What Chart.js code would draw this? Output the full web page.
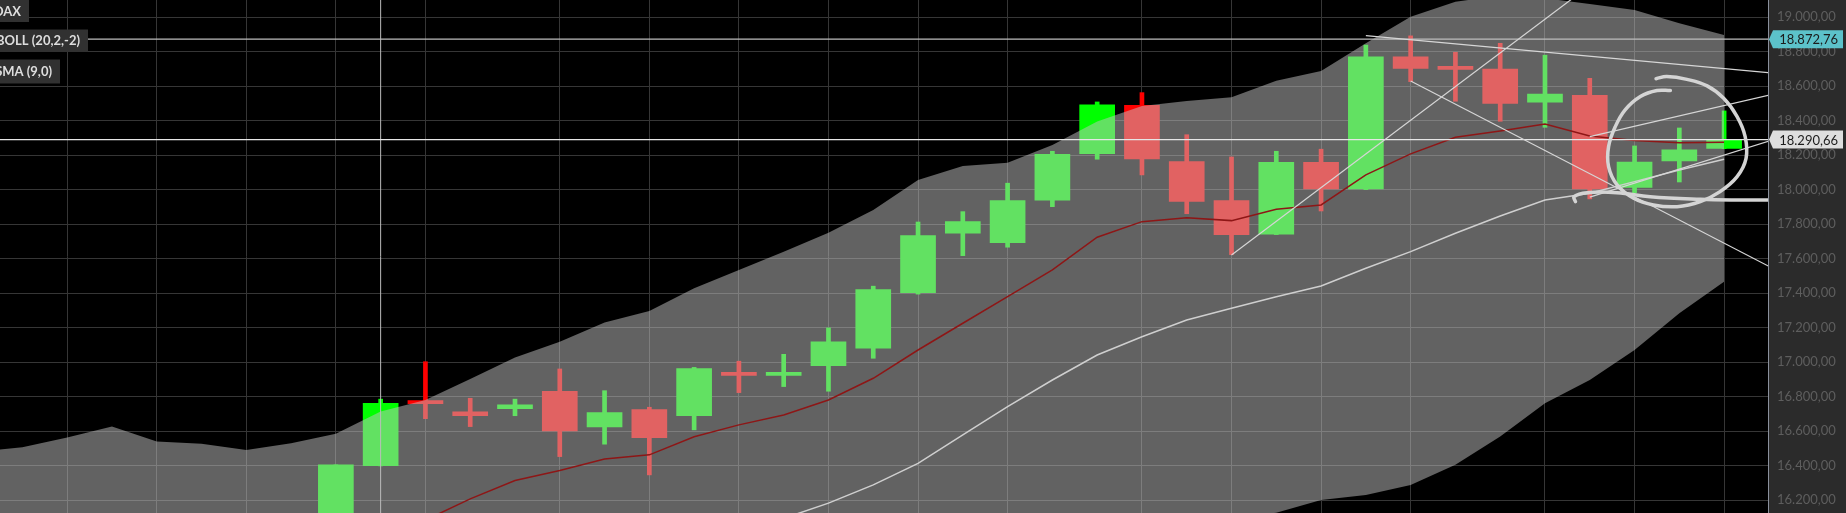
<!DOCTYPE html>
<html>
<head>
<meta charset="utf-8">
<script src="https://cdn.jsdelivr.net/npm/chart.js@4.4.0/dist/chart.umd.min.js"></script>
<style>
  html, body { margin: 0; padding: 0; background: #000; }
  #wrap { width: 1846px; height: 513px; }
</style>
</head>
<body>
<div id="wrap"><canvas id="myChart"></canvas></div>
<script>
// candles (index = trading day, 0 = first visible candle)
const candleIdx = [0, 1, 2, 3, 4, 5, 6, 7, 8, 9, 10, 11, 12, 13, 14, 15, 16, 17, 18, 19, 20, 21, 22, 23, 24, 25, 26, 27, 28, 29, 30, 31];
const opens  = [16050, 16400, 16765, 16712, 16731, 16832, 16625, 16725, 16690, 16928, 16924, 16980, 17081, 17404, 17748, 17693, 17939, 18209, 18490, 18163, 17937, 17742, 18159, 18005, 18770, 18703, 18699, 18507, 18548, 18013, 18167, 18240];
const highs  = [16405, 16786, 17003, 16791, 16786, 16961, 16835, 16739, 16970, 17006, 17046, 17199, 17441, 17813, 17873, 18038, 18223, 18509, 18563, 18319, 18190, 18223, 18235, 18838, 18892, 18797, 18849, 18780, 18646, 18254, 18358, 18457];
const lows   = [16020, 16399, 16673, 16627, 16690, 16453, 16525, 16347, 16608, 16824, 16859, 16832, 17023, 17395, 17618, 17667, 17902, 18177, 18086, 17861, 17624, 17740, 17877, 18000, 18627, 18513, 18397, 18362, 17947, 17983, 18045, 18238];
const closes = [16405, 16762, 16760, 16690, 16753, 16602, 16708, 16563, 16963, 16924, 16928, 17119, 17421, 17734, 17815, 17937, 18206, 18492, 18179, 17933, 17740, 18159, 18005, 18770, 18704, 18698, 18501, 18554, 18005, 18161, 18232, 18290.66];

// Bollinger (20,2) - starts before the first visible candle
const bandIdx    = [-8, -7, -6, -5, -4, -3, -2, -1, 0, 1, 2, 3, 4, 5, 6, 7, 8, 9, 10, 11, 12, 13, 14, 15, 16, 17, 18, 19, 20, 21, 22, 23, 24, 25, 26, 27, 28, 29, 30, 31];
const upperBand  = [16480, 16507, 16564, 16627, 16540, 16527, 16491, 16530, 16585, 16714, 16781, 16903, 17027, 17119, 17230, 17297, 17429, 17535, 17641, 17751, 17883, 18057, 18138, 18157, 18260, 18395, 18486, 18515, 18536, 18632, 18689, 18849, 19003, 19090, 19125, 19110, 19077, 19042, 18965, 18897];
const middleBand = [15900, 15880, 15860, 15840, 15820, 15800, 15780, 15760, 15745, 15760, 15790, 15830, 15870, 15910, 15950, 15990, 16030, 16060, 16095, 16183, 16289, 16414, 16579, 16743, 16897, 17042, 17148, 17245, 17313, 17380, 17442, 17545, 17641, 17748, 17848, 17941, 17980, 18047, 18115, 18177];
const lowerBand  = [15320, 15250, 15160, 15050, 15100, 15070, 15070, 14990, 14905, 14805, 14800, 14760, 14710, 14700, 14670, 14680, 14630, 14585, 14550, 14615, 14695, 14770, 15020, 15330, 15535, 15690, 15810, 15975, 16090, 16128, 16202, 16231, 16289, 16405, 16569, 16762, 16897, 17071, 17284, 17467];

// SMA (9,0)
const sma9 = [15940, 16000, 16085, 16208, 16314, 16372, 16439, 16463, 16568, 16637, 16694, 16781, 16907, 17071, 17226, 17380, 17535, 17725, 17815, 17838, 17821, 17887, 17912, 18086, 18208, 18304, 18341, 18381, 18312, 18285, 18273, 18275];

const yTicks = [16200, 16400, 16600, 16800, 17000, 17200, 17400, 17600, 17800, 18000, 18200, 18400, 18600, 18800, 19000];
const xGridAt = [-6, -4, -2, 0, 2, 5, 7, 9, 11, 13, 15, 18, 20, 22, 24, 27, 29, 31];

const priceLines = [18872.76, 18290.66];
const crosshairAt = 1;

// drawn trend lines: [idx1, price1, idx2, price2]
const trendLines = [
  [23, 18893, 32.5, 18667],
  [24, 18630, 32.5, 17489],
  [20, 17622, 28, 19184],
  [28, 18308, 32.5, 18578],
  [28, 17957, 32.5, 18323]
];

// freehand circle + underline
const loopX = [29.80, 29.50, 29.13, 28.79, 28.57, 28.42, 28.42, 28.61, 28.98, 29.42, 29.95, 30.47, 30.91, 31.29, 31.49, 31.47, 31.29, 30.99, 30.62, 30.17, 29.72, 29.48];
const loopY = [18575, 18575, 18540, 18463, 18366, 18250, 18134, 18028, 17951, 17912, 17902, 17931, 17989, 18076, 18182, 18308, 18424, 18530, 18602, 18640, 18656, 18644];
const underX = [27.68, 27.65, 27.94, 28.61, 29.35, 30.47, 31.21, 32.03];
const underY = [17931, 17960, 17983, 17983, 17960, 17945, 17941, 17941];

const labels = ['DAX', 'BOLL (20,2,-2)', 'SMA (9,0)'];

const UP = '#00ff00', DOWN = '#ff0000';
const candleColors = candleIdx.map((x, i) => closes[i] >= opens[i] ? UP : DOWN);

function fmt(v) {
  let [i, d] = v.toFixed(2).split('.');
  i = i.replace(/\B(?=(\d{3})+(?!\d))/g, '.');
  return i + ',' + d;
}

function pts(xs, ys) {
  return xs.map((x, i) => ({ x: x, y: ys[i] }));
}

function lineSet(data, color, width, order, extra) {
  return Object.assign({
    type: 'line', data: data, borderColor: color, borderWidth: width,
    pointRadius: 0, fill: false, tension: 0, order: order
  }, extra || {});
}

const datasets = [
  { type: 'bar', data: candleIdx.map((x, i) => ({ x: x, y: [lows[i], highs[i]] })),
    backgroundColor: candleColors, barThickness: 4, grouped: false, order: 10 },
  { type: 'bar', data: candleIdx.map((x, i) => ({ x: x, y: [opens[i], closes[i]] })),
    backgroundColor: candleColors, barThickness: 35, minBarLength: 3, grouped: false, order: 9 },
  lineSet(pts(bandIdx, upperBand), 'rgba(0,0,0,0)', 1, 8, { fill: '+1', backgroundColor: 'rgba(196,196,196,0.5)' }),
  lineSet(pts(bandIdx, lowerBand), 'rgba(0,0,0,0)', 1, 7),
  lineSet(pts(bandIdx, middleBand), '#cfcfcf', 1.5, 6),
  lineSet(pts(candleIdx, sma9), '#8e1616', 1.5, 5)
];

trendLines.forEach(t => {
  datasets.push(lineSet([{ x: t[0], y: t[1] }, { x: t[2], y: t[3] }], '#d6d6d6', 1.2, 4));
});
priceLines.forEach((p, i) => {
  datasets.push(lineSet([{ x: -8, y: p }, { x: 33, y: p }], i === 0 ? '#bdbdbd' : '#e6e6e6', 1.2, 4));
});
datasets.push(lineSet([{ x: crosshairAt, y: 16000 }, { x: crosshairAt, y: 19200 }], '#bcbcbc', 1, 4));
datasets.push(lineSet(pts(loopX, loopY), '#d4d4d4', 3.5, 3, { tension: 0.4, borderCapStyle: 'round', borderJoinStyle: 'round' }));
datasets.push(lineSet(pts(underX, underY), '#d4d4d4', 3.5, 3, { tension: 0.4, borderCapStyle: 'round', borderJoinStyle: 'round', clip: 0 }));

const chrome = {
  id: 'chrome',
  beforeDraw(chart) {
    const { ctx, chartArea: a, width, height } = chart;
    ctx.save();
    ctx.fillStyle = '#000';
    ctx.fillRect(0, 0, width, height);
    ctx.fillStyle = '#2b2b2b';
    ctx.fillRect(a.right, 0, width - a.right, height);
    ctx.restore();
  },
  afterDraw(chart) {
    const { ctx, chartArea: a, width } = chart;
    const y = chart.scales.y;
    ctx.save();
    // indicator boxes, cut by the left edge
    const boxTop = [0, 29.5, 59.5], boxH = [22, 22.5, 24], textEnd = [21, 80, 52];
    ctx.font = 'bold 13px Lato';
    ctx.textBaseline = 'middle';
    ctx.textAlign = 'right';
    labels.forEach((t, i) => {
      ctx.fillStyle = '#313131';
      ctx.fillRect(0, boxTop[i], textEnd[i] + 8, boxH[i]);
      ctx.fillStyle = '#dedede';
      ctx.fillText(t, textEnd[i], boxTop[i] + boxH[i] / 2 + 0.5);
    });
    // price tags on the axis
    const tagFill = ['#5cc2ca', '#dedede'];
    ctx.font = '13px Lato';
    priceLines.forEach((p, i) => {
      const py = y.getPixelForValue(p);
      const x0 = a.right + 1, x1 = a.right + 5, x2 = width - 3;
      ctx.fillStyle = tagFill[i];
      ctx.beginPath();
      ctx.moveTo(x0, py);
      ctx.lineTo(x1, py - 9);
      ctx.lineTo(x2, py - 9);
      ctx.lineTo(x2, py + 9);
      ctx.lineTo(x1, py + 9);
      ctx.closePath();
      ctx.fill();
      ctx.fillStyle = '#1c1c1c';
      ctx.textAlign = 'right';
      ctx.fillText(fmt(p), width - 8, py + 1);
    });
    ctx.restore();
  }
};

const ctx = document.getElementById('myChart').getContext('2d');
const myChart = new Chart(ctx, {
  type: 'bar',
  data: { datasets: datasets },
  options: {
    responsive: true,
    maintainAspectRatio: false,
    devicePixelRatio: 1,
    animation: false,
    layout: { padding: 0, autoPadding: false },
    plugins: { legend: { display: false }, tooltip: { enabled: false } },
    scales: {
      x: {
        type: 'linear', min: -7.5, max: 31.98, offset: false,
        afterBuildTicks: s => { s.ticks = xGridAt.map(v => ({ value: v })); },
        afterFit: s => { s.height = 0; s.paddingLeft = 0; s.paddingRight = 0; },
        grid: { color: '#363636', drawTicks: false, offset: false },
        border: { display: false },
        ticks: { display: false }
      },
      y: {
        position: 'right', min: 16126, max: 19100,
        afterBuildTicks: s => { s.ticks = yTicks.map(v => ({ value: v })); },
        // keep the plot full height: no label padding above/below
        afterFit: s => { s.width = 78; s.paddingTop = 0; s.paddingBottom = 0; },
        grid: { color: '#363636', drawTicks: false },
        border: { color: '#8a909c', width: 1 },
        ticks: { color: '#5e5e5e', font: { family: 'Lato', size: 13 }, padding: 9, callback: v => fmt(v) }
      }
    }
  },
  plugins: [chrome]
});
</script>
</body>
</html>
